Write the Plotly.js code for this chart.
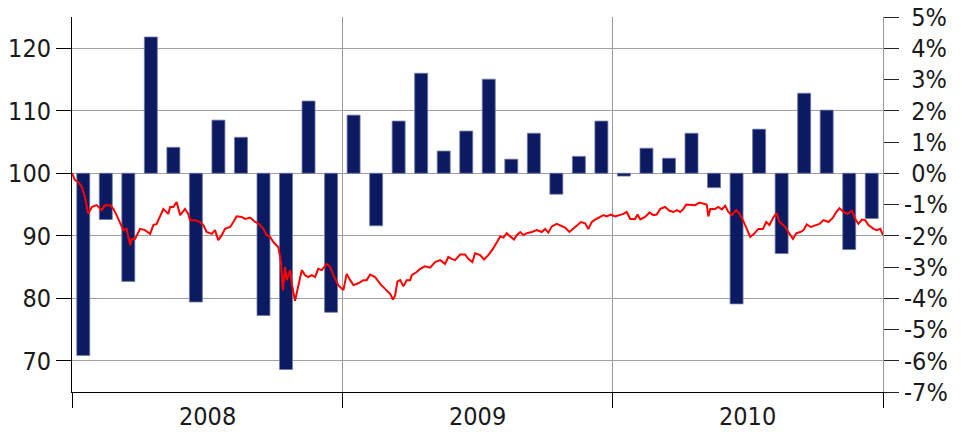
<!DOCTYPE html>
<html>
<head>
<meta charset="utf-8">
<script src="https://cdn.plot.ly/plotly-3.0.1.min.js"></script>
<style>html,body{margin:0;padding:0;background:#fff;}#chart{width:964px;height:432px;}</style>
</head>
<body>
<div id="chart"></div>
<script>
// Monthly % change (right axis), Jan 2008 .. Dec 2010
const months = ['2008-01','2008-02','2008-03','2008-04','2008-05','2008-06','2008-07','2008-08','2008-09','2008-10','2008-11','2008-12',
                '2009-01','2009-02','2009-03','2009-04','2009-05','2009-06','2009-07','2009-08','2009-09','2009-10','2009-11','2009-12',
                '2010-01','2010-02','2010-03','2010-04','2010-05','2010-06','2010-07','2010-08','2010-09','2010-10','2010-11','2010-12'];
const monthlyPct = [-5.83,-1.48,-3.46,4.36,0.83,-4.12,1.70,1.15,-4.55,-6.28,2.31,-4.45,
                    1.86,-1.68,1.67,3.20,0.71,1.35,3.01,0.45,1.28,-0.67,0.54,1.67,
                    -0.09,0.80,0.48,1.28,-0.46,-4.18,1.41,-2.57,2.56,2.02,-2.44,-1.45];

// Index level (left axis), time in decimal years
const lineT = [2008.000,2008.011,2008.023,2008.036,2008.048,2008.060,2008.073,2008.091,2008.110,2008.122,2008.141,2008.153,2008.165,2008.178,2008.190,2008.202,2008.215,2008.221,2008.233,2008.252,2008.270,2008.289,2008.301,2008.313,2008.326,2008.338,2008.356,2008.363,2008.375,2008.387,2008.400,2008.418,2008.430,2008.437,2008.455,2008.474,2008.486,2008.498,2008.517,2008.529,2008.541,2008.554,2008.566,2008.585,2008.597,2008.609,2008.628,2008.640,2008.659,2008.677,2008.689,2008.708,2008.720,2008.733,2008.745,2008.763,2008.772,2008.780,2008.788,2008.794,2008.807,2008.813,2008.825,2008.837,2008.850,2008.862,2008.874,2008.887,2008.899,2008.911,2008.924,2008.942,2008.955,2008.967,2008.985,
  2009.004,2009.016,2009.029,2009.041,2009.059,2009.078,2009.090,2009.103,2009.121,2009.140,2009.158,2009.177,2009.187,2009.195,2009.204,2009.214,2009.226,2009.238,2009.251,2009.257,2009.275,2009.288,2009.306,2009.325,2009.343,2009.362,2009.380,2009.392,2009.405,2009.417,2009.436,2009.454,2009.466,2009.481,2009.491,2009.510,2009.524,2009.540,2009.557,2009.571,2009.584,2009.596,2009.608,2009.621,2009.635,2009.645,2009.658,2009.670,2009.682,2009.701,2009.719,2009.738,2009.750,2009.762,2009.775,2009.793,2009.812,2009.824,2009.840,2009.855,2009.870,2009.882,2009.898,2009.910,2009.923,2009.935,2009.954,2009.966,2009.978,2009.993,
  2010.009,2010.028,2010.040,2010.052,2010.065,2010.083,2010.092,2010.102,2010.120,2010.136,2010.151,2010.163,2010.176,2010.194,2010.210,2010.225,2010.237,2010.250,2010.262,2010.272,2010.287,2010.305,2010.321,2010.336,2010.348,2010.354,2010.361,2010.379,2010.391,2010.404,2010.416,2010.428,2010.441,2010.457,2010.469,2010.482,2010.490,2010.499,2010.509,2010.523,2010.539,2010.556,2010.568,2010.580,2010.595,2010.607,2010.617,2010.626,2010.638,2010.650,2010.667,2010.679,2010.694,2010.706,2010.718,2010.733,2010.749,2010.765,2010.780,2010.798,2010.815,2010.827,2010.839,2010.854,2010.869,2010.885,2010.897,2010.909,2010.922,2010.934,2010.946,2010.965,2010.977,2010.990,2011.000];
const lineV = [100.0,98.9,98.6,97.8,96.2,93.5,94.6,94.9,94.1,94.9,94.9,94.3,93.3,91.9,90.9,91.1,88.5,89.5,89.5,91.1,90.9,90.3,91.7,91.9,93.3,94.3,93.5,94.6,94.6,95.4,93.3,94.3,93.5,92.5,92.5,92.2,91.7,90.6,90.3,90.9,89.3,90.1,91.1,91.4,92.2,93.1,93.0,92.7,92.9,92.2,92.0,91.1,90.1,89.8,89.0,88.2,86.1,81.3,85.0,82.9,84.5,82.3,79.6,82.1,84.5,83.7,83.4,83.7,83.4,84.7,84.5,85.5,85.0,83.7,82.1,
  81.3,83.9,82.9,82.1,82.4,82.9,82.9,83.8,83.4,82.3,81.5,80.7,79.8,80.4,82.7,82.9,81.9,82.9,82.9,83.7,84.2,84.7,85.1,84.9,85.8,86.1,85.5,86.6,86.3,86.1,87.0,87.0,86.3,85.8,87.2,86.9,86.2,86.9,87.9,89.0,89.9,89.7,90.4,89.9,89.4,90.1,90.6,90.1,90.4,90.6,90.9,90.6,91.1,90.5,91.5,91.9,91.5,91.3,90.6,91.1,91.7,92.2,92.0,91.1,92.2,92.6,93.0,93.3,93.1,93.4,
  93.1,93.3,93.5,93.8,92.7,92.7,93.4,92.6,93.0,93.7,93.3,93.4,94.3,94.6,94.0,93.8,94.1,93.8,94.3,95.0,94.9,94.9,95.3,95.1,95.0,93.1,94.3,94.3,94.6,94.2,94.8,93.8,93.3,94.1,93.5,92.5,91.7,90.6,89.8,90.3,91.1,91.1,92.2,91.7,93.0,93.6,92.2,91.9,91.4,90.6,89.5,90.4,90.6,90.9,91.8,91.4,91.7,91.9,92.5,92.2,92.9,93.8,94.4,93.8,93.5,94.0,92.7,91.9,92.6,92.5,91.7,91.1,90.9,91.1,90.1];

const years = ['2008','2009','2010'];
const leftTicks = [70,80,90,100,110,120];
const rightTicks = [-7,-6,-5,-4,-3,-2,-1,0,1,2,3,4,5];

const monthPos = months.map(m => { const [y, mo] = m.split('-').map(Number); return y + (mo - 0.5) / 12; });
const FONT = '"DejaVu Sans Condensed", "Liberation Sans Narrow", "Arial Narrow", "Liberation Sans", sans-serif';
const FS = 25;

const traces = [
  {
    type: 'bar', x: monthPos, y: monthlyPct, xaxis: 'x', yaxis: 'y',
    width: 0.048,
    marker: {color: '#0c1a62', line: {color: '#6f7aa6', width: 0.8}},
    hoverinfo: 'x+y', showlegend: false
  },
  {
    type: 'scatter', mode: 'lines', x: lineT, y: lineV, xaxis: 'x', yaxis: 'y2',
    line: {color: '#ff0000', width: 2},
    showlegend: false
  }
];

const layout = {
  width: 964, height: 432,
  margin: {l: 72, r: 81, t: 17, b: 40},
  paper_bgcolor: '#ffffff', plot_bgcolor: '#ffffff',
  font: {family: FONT, size: FS, color: '#1a1a1a'},
  bargap: 0,
  xaxis: {
    range: [2008, 2011], tickmode: 'array', tickvals: [2008, 2009, 2010, 2011],
    showticklabels: false, ticks: 'outside', ticklen: 15, tickcolor: '#000', tickwidth: 1,
    showgrid: true, gridcolor: '#9a9a9a', gridwidth: 1,
    showline: true, linecolor: '#000', linewidth: 1, zeroline: false, fixedrange: true
  },
  yaxis: {
    side: 'right', range: [-7, 5], tickmode: 'array', tickvals: rightTicks,
    ticktext: rightTicks.map(v => v < 0 ? '-' + Math.abs(v) + '%' : '\u2008' + v + '%'),
    ticks: 'outside', ticklen: 15, tickcolor: '#222', tickwidth: 1,
    showgrid: false, zeroline: false,
    showline: true, linecolor: '#9a9a9a', linewidth: 1,
    tickfont: {family: FONT, size: FS, color: '#1a1a1a'}
  },
  yaxis2: {
    overlaying: 'y', side: 'left', range: [65, 125], tickmode: 'array', tickvals: leftTicks,
    ticks: 'outside', ticklen: 15, tickcolor: '#000', tickwidth: 1,
    showgrid: true, gridcolor: '#a0a0a0', gridwidth: 1, zeroline: false,
    showline: true, linecolor: '#000', linewidth: 1,
    tickfont: {family: FONT, size: FS, color: '#1a1a1a'}
  },
  annotations: years.map(y => ({
    x: Number(y) + 0.5, xref: 'x', y: -0.064, yref: 'paper',
    text: y, showarrow: false, xanchor: 'center', yanchor: 'middle',
    font: {family: FONT, size: FS, color: '#1a1a1a'}
  }))
};

Plotly.newPlot('chart', traces, layout, {displayModeBar: false, staticPlot: true});
</script>
</body>
</html>
